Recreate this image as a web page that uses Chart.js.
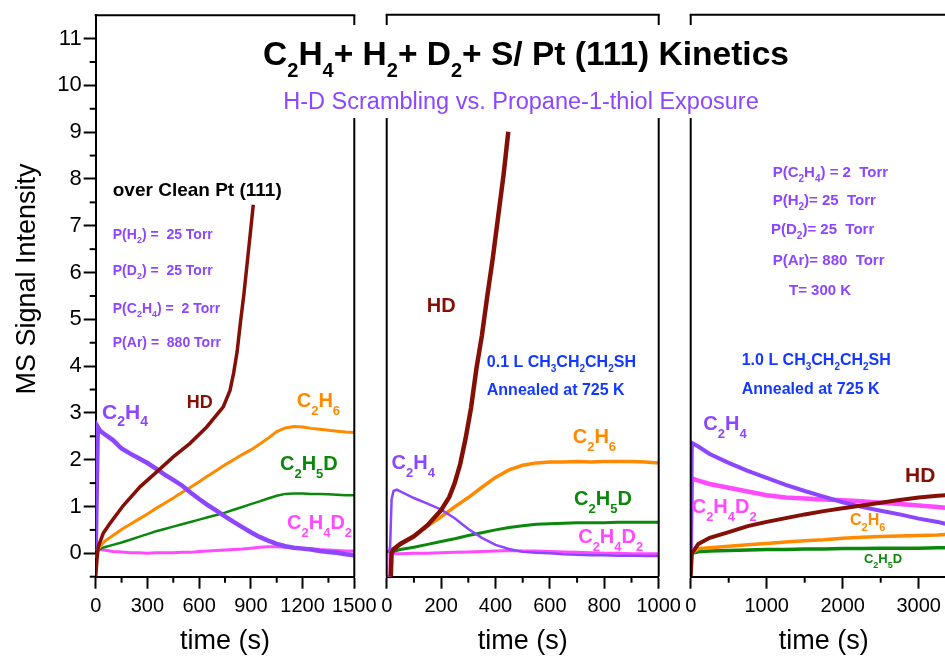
<!DOCTYPE html>
<html>
<head>
<meta charset="utf-8">
<script src="https://cdn.jsdelivr.net/npm/chart.js@4.4.0/dist/chart.umd.min.js"></script>
<style>
html, body { margin: 0; padding: 0; background: #fff; overflow: hidden; }
#wrap { position: relative; width: 945px; height: 658px; overflow: hidden; }
#wrap canvas { position: absolute; left: 0; top: 0; }
</style>
</head>
<body>
<div id="wrap">
  <canvas id="p1" width="945" height="658"></canvas>
  <canvas id="p2" width="945" height="658"></canvas>
  <canvas id="p3" width="1000" height="658"></canvas>
</div>
<script>
// tick values
const yTicks = [0, 1, 2, 3, 4, 5, 6, 7, 8, 9, 10, 11];
const xTicks1 = [0, 300, 600, 900, 1200, 1500];
const xTicks2 = [0, 200, 400, 600, 800, 1000];
const xTicks3 = [0, 1000, 2000, 3000];

// ---- clean Pt(111), 0-1500 s ----
const t1 = [0, 12, 25, 50, 100, 150, 200, 250, 300, 350, 400, 450, 500, 550, 600, 650, 700, 750, 800, 850, 900, 950, 1000, 1050, 1100, 1150, 1200, 1250, 1300, 1350, 1400, 1450, 1500];
const c2h4_1 = [0.05, 2.70, 2.62, 2.55, 2.42, 2.24, 2.13, 2.03, 1.93, 1.81, 1.68, 1.57, 1.45, 1.30, 1.16, 1.03, 0.91, 0.79, 0.67, 0.56, 0.45, 0.35, 0.27, 0.20, 0.15, 0.12, 0.10, 0.08, 0.05, 0.03, 0.01, -0.02, -0.04];
const c2h6_1 = [-0.1, 0.06, 0.14, 0.25, 0.38, 0.51, 0.62, 0.73, 0.84, 0.96, 1.07, 1.18, 1.30, 1.41, 1.53, 1.65, 1.77, 1.89, 2.00, 2.11, 2.21, 2.33, 2.46, 2.60, 2.68, 2.71, 2.70, 2.67, 2.65, 2.63, 2.61, 2.59, 2.58];
const c2h5d_1 = [-0.1, 0.05, 0.09, 0.13, 0.18, 0.23, 0.29, 0.35, 0.41, 0.47, 0.52, 0.57, 0.62, 0.67, 0.72, 0.77, 0.82, 0.87, 0.93, 0.99, 1.05, 1.11, 1.17, 1.23, 1.27, 1.28, 1.28, 1.27, 1.27, 1.26, 1.25, 1.24, 1.24];
const c2h4d2_1 = [0.05, 0.10, 0.08, 0.07, 0.04, 0.03, 0.01, 0.01, 0.00, 0.01, 0.01, 0.01, 0.02, 0.02, 0.04, 0.05, 0.06, 0.07, 0.08, 0.09, 0.11, 0.13, 0.14, 0.14, 0.13, 0.12, 0.11, 0.10, 0.08, 0.07, 0.06, 0.05, 0.05];
const tHD1 = [0, 8, 15, 44, 83, 160, 257, 354, 450, 547, 644, 740, 779, 800, 820, 840, 860, 880, 900, 914];
const hd_1 = [-0.5, -0.1, 0.14, 0.43, 0.64, 1.02, 1.42, 1.74, 2.06, 2.35, 2.70, 3.13, 3.48, 3.85, 4.30, 4.95, 5.55, 6.25, 6.95, 7.45];

// ---- 0.1 L propanethiol, 0-1000 s ----
const t2 = [0, 10, 12, 18, 25, 37, 50, 100, 150, 200, 250, 300, 350, 400, 450, 500, 550, 600, 650, 700, 750, 800, 850, 900, 950, 1000];
const c2h4_2 = [0.04, 0.04, 0.05, 1.15, 1.33, 1.36, 1.32, 1.18, 1.06, 0.93, 0.75, 0.52, 0.33, 0.18, 0.09, 0.03, 0.01, 0.00, -0.02, -0.03, -0.04, -0.04, -0.05, -0.05, -0.06, -0.06];
const c2h6_2 = [0.04, 0.04, 0.05, 0.08, 0.10, 0.15, 0.20, 0.38, 0.58, 0.78, 0.99, 1.19, 1.41, 1.62, 1.78, 1.88, 1.93, 1.95, 1.95, 1.96, 1.95, 1.96, 1.96, 1.96, 1.95, 1.93];
const c2h5d_2 = [0.04, 0.04, 0.04, 0.04, 0.05, 0.06, 0.08, 0.13, 0.19, 0.25, 0.31, 0.38, 0.44, 0.50, 0.55, 0.59, 0.62, 0.63, 0.64, 0.65, 0.65, 0.65, 0.66, 0.66, 0.66, 0.66];
const c2h4d2_2 = [-0.5, -0.5, 0.05, 0.01, 0.00, -0.01, -0.01, 0.00, 0.00, 0.01, 0.02, 0.03, 0.04, 0.05, 0.06, 0.05, 0.05, 0.04, 0.03, 0.02, 0.01, 0.00, 0.00, -0.01, -0.01, -0.01];
const tHD2 = [15, 18, 25, 50, 100, 150, 200, 230, 250, 270, 290, 310, 330, 350, 370, 390, 410, 430, 447];
const hd_2 = [-0.5, 0.0, 0.08, 0.20, 0.36, 0.60, 0.92, 1.20, 1.50, 1.90, 2.45, 3.10, 3.95, 4.65, 5.50, 6.30, 7.20, 8.10, 9.00];

// ---- 1.0 L propanethiol, 0-3350 s ----
const t3 = [0, 15, 100, 250, 500, 750, 1000, 1250, 1500, 1750, 2000, 2250, 2500, 2750, 3000, 3250, 3350];
const c2h4_3 = [0.0, 2.36, 2.28, 2.12, 1.93, 1.76, 1.61, 1.46, 1.33, 1.21, 1.09, 0.99, 0.91, 0.83, 0.74, 0.67, 0.63];
const c2h4d2_3 = [0.0, 1.60, 1.55, 1.48, 1.40, 1.32, 1.24, 1.19, 1.17, 1.15, 1.13, 1.11, 1.08, 1.05, 1.02, 0.99, 0.97];
const hd_3 = [-0.5, 0.0, 0.20, 0.33, 0.45, 0.58, 0.67, 0.75, 0.83, 0.90, 0.96, 1.02, 1.08, 1.14, 1.19, 1.23, 1.24];
const c2h6_3 = [0.0, 0.0, 0.10, 0.12, 0.15, 0.18, 0.21, 0.24, 0.27, 0.29, 0.32, 0.34, 0.36, 0.37, 0.38, 0.39, 0.40];
const c2h5d_3 = [0.0, 0.0, 0.03, 0.05, 0.06, 0.07, 0.08, 0.08, 0.09, 0.09, 0.10, 0.10, 0.11, 0.11, 0.11, 0.12, 0.12];

const FONT = '"Liberation Sans", Arial, Helvetica, sans-serif';
const PURPLE = '#8c46ff', HD_RED = '#840f06', ORANGE = '#ff8a00', GREEN = '#0b880b', MAGENTA = '#ff4aff', BLUE = '#1438ff';

// text with one-character subscripts written as _x
function richText(ctx, text, x, y, o) {
  const size = o.size || 20;
  const sub = o.sub || Math.round(size * 0.66);
  const drop = o.drop || Math.round(size * 0.36);
  const weight = o.bold === false ? '' : 'bold ';
  const parts = [];
  for (let i = 0; i < text.length; i++) {
    if (text[i] === '_') { parts.push({ s: text[i + 1], sub: true }); i++; continue; }
    const last = parts[parts.length - 1];
    if (last && !last.sub) last.s += text[i]; else parts.push({ s: text[i], sub: false });
  }
  const fontOf = p => weight + (p.sub ? sub : size) + 'px ' + FONT;
  let total = 0;
  parts.forEach(p => { ctx.font = fontOf(p); p.w = ctx.measureText(p.s).width; total += p.w; });
  let cx = o.align === 'center' ? x - total / 2 : x;
  ctx.fillStyle = o.color || '#000';
  ctx.textAlign = 'left';
  ctx.textBaseline = 'alphabetic';
  parts.forEach(p => { ctx.font = fontOf(p); ctx.fillText(p.s, cx, p.sub ? y + drop : y); cx += p.w; });
}

function line(ctx, x1, y1, x2, y2) {
  ctx.beginPath(); ctx.moveTo(x1, y1); ctx.lineTo(x2, y2); ctx.stroke();
}

// box edges, minor ticks and in-plot labels
function drawFrame(chart, f) {
  const { ctx, chartArea: a } = chart;
  const xs = chart.scales.x, ys = chart.scales.y;
  const gapTop = 25, gapBottom = 118;
  ctx.save();
  ctx.strokeStyle = '#000';
  ctx.lineWidth = 2;
  line(ctx, a.left - 1, a.top, a.right + 1, a.top);
  if (f.left) { line(ctx, a.left, a.top, a.left, gapTop); line(ctx, a.left, gapBottom, a.left, a.bottom); }
  if (f.right) { line(ctx, a.right, a.top, a.right, gapTop); line(ctx, a.right, gapBottom, a.right, a.bottom); }
  (f.xMinor || []).forEach(v => { const px = xs.getPixelForValue(v); line(ctx, px, a.bottom, px, a.bottom + 6); });
  (f.yMinor || []).forEach(v => { const py = ys.getPixelForValue(v); line(ctx, a.left, py, a.left - 6, py); });
  (f.labels || []).forEach(l => richText(ctx, l.text, xs.getPixelForValue(l.t), ys.getPixelForValue(l.v), l));
  if (f.extra) f.extra(ctx);
  ctx.restore();
}

function makeChart(id, p) {
  return new Chart(document.getElementById(id), {
    type: 'line',
    data: {
      datasets: p.series.map(s => ({
        data: s.t.map((t, i) => ({ x: t, y: s.v[i] })),
        borderColor: s.color,
        borderWidth: s.width,
        pointRadius: 0,
        tension: 0,
        fill: false
      }))
    },
    options: {
      responsive: false,
      animation: false,
      events: [],
      layout: { padding: p.padding },
      plugins: { legend: { display: false }, tooltip: { enabled: false } },
      scales: {
        x: {
          type: 'linear', min: 0, max: p.xMax,
          afterFit: s => { s.height = 81.3; },
          afterBuildTicks: s => { s.ticks = p.xTicks.map(v => ({ value: v })); },
          ticks: { color: '#000', font: { size: 20, family: FONT }, padding: 6, maxRotation: 0, autoSkip: false, callback: v => String(v) },
          grid: { drawOnChartArea: false, tickLength: 12, tickWidth: 2, tickColor: '#000' },
          border: { color: '#000', width: 2 },
          title: { display: true, text: 'time (s)', color: '#000', font: { size: 27, family: FONT }, padding: { top: 0, bottom: 0 } }
        },
        y: {
          type: 'linear', min: -0.5, max: 11.5, display: p.showY,
          afterFit: s => { if (p.showY) s.width = 95.7; },
          afterBuildTicks: s => { s.ticks = yTicks.map(v => ({ value: v })); },
          ticks: { color: '#000', font: { size: 22, family: FONT }, padding: 2, autoSkip: false, callback: v => String(v) },
          grid: { drawOnChartArea: false, tickLength: 12, tickWidth: 2, tickColor: '#000' },
          border: { color: '#000', width: 2 }
        }
      }
    },
    plugins: [{ id: 'frame', afterDraw: chart => drawFrame(chart, p.frame) }]
  });
}

const yHalves = yTicks.map(v => v - 0.5);

makeChart('p1', {
  xMax: 1500, xTicks: xTicks1, showY: true,
  padding: { left: 0, right: 590.7, top: 14.7, bottom: 0 },
  series: [
    { t: tHD1, v: hd_1, color: HD_RED, width: 3.5 },
    { t: t1, v: c2h4_1, color: PURPLE, width: 4.5 },
    { t: t1, v: c2h6_1, color: ORANGE, width: 3 },
    { t: t1, v: c2h5d_1, color: GREEN, width: 2.5 },
    { t: t1, v: c2h4d2_1, color: MAGENTA, width: 3 }
  ],
  frame: {
    right: true,
    xMinor: [150, 450, 750, 1050, 1350],
    yMinor: yHalves,
    labels: [
      { text: 'over Clean Pt (111)', t: 99, v: 7.64, size: 19, color: '#000' },
      { text: 'P(H_2) =  25 Torr', t: 99, v: 6.71, size: 14, sub: 9, drop: 4, color: PURPLE },
      { text: 'P(D_2) =  25 Torr', t: 99, v: 5.94, size: 14, sub: 9, drop: 4, color: PURPLE },
      { text: 'P(C_2H_4) =  2 Torr', t: 99, v: 5.13, size: 14, sub: 9, drop: 4, color: PURPLE },
      { text: 'P(Ar) =  880 Torr', t: 99, v: 4.40, size: 14, color: PURPLE },
      { text: 'C_2H_4', t: 37, v: 2.88, size: 21, sub: 14, drop: 7, color: PURPLE },
      { text: 'HD', t: 528, v: 3.11, size: 18, color: HD_RED },
      { text: 'C_2H_6', t: 1166, v: 3.12, size: 20, sub: 13, drop: 8, color: ORANGE },
      { text: 'C_2H_5D', t: 1069, v: 1.78, size: 20, sub: 13, drop: 8, color: GREEN },
      { text: 'C_2H_4D_2', t: 1110, v: 0.53, size: 20, sub: 13, drop: 8, color: MAGENTA }
    ],
    extra: ctx => {
      richText(ctx, 'C_2H_4+ H_2+ D_2+ S/ Pt (111) Kinetics', 526, 65, { size: 33.5, sub: 20, drop: 12, align: 'center', color: '#000' });
      richText(ctx, 'H-D Scrambling vs. Propane-1-thiol Exposure', 521, 109, { size: 23.5, bold: false, align: 'center', color: PURPLE });
      ctx.save();
      ctx.translate(35, 279);
      ctx.rotate(-Math.PI / 2);
      ctx.font = '27px ' + FONT;
      ctx.fillStyle = '#000';
      ctx.textAlign = 'center';
      ctx.textBaseline = 'alphabetic';
      ctx.fillText('MS Signal Intensity', 0, 0);
      ctx.restore();
    }
  }
});

makeChart('p2', {
  xMax: 1000, xTicks: xTicks2, showY: false,
  padding: { left: 386.7, right: 286.3, top: 14.7, bottom: 0 },
  series: [
    { t: tHD2, v: hd_2, color: HD_RED, width: 4.5 },
    { t: t2, v: c2h4_2, color: PURPLE, width: 2.5 },
    { t: t2, v: c2h6_2, color: ORANGE, width: 3.5 },
    { t: t2, v: c2h5d_2, color: GREEN, width: 3 },
    { t: t2, v: c2h4d2_2, color: MAGENTA, width: 3 }
  ],
  frame: {
    left: true, right: true,
    xMinor: [100, 300, 500, 700, 900],
    labels: [
      { text: 'HD', t: 147, v: 5.15, size: 20, color: HD_RED },
      { text: '0.1 L CH_3CH_2CH_2SH', t: 368, v: 3.98, size: 16, sub: 10, drop: 5, color: BLUE },
      { text: 'Annealed at 725 K', t: 368, v: 3.38, size: 16, color: BLUE },
      { text: 'C_2H_6', t: 684, v: 2.35, size: 20, sub: 13, drop: 8, color: ORANGE },
      { text: 'C_2H_4', t: 18, v: 1.81, size: 20, sub: 13, drop: 8, color: PURPLE },
      { text: 'C_2H_5D', t: 689, v: 1.03, size: 20, sub: 13, drop: 8, color: GREEN },
      { text: 'C_2H_4D_2', t: 704, v: 0.21, size: 20, sub: 13, drop: 8, color: MAGENTA }
    ]
  }
});

makeChart('p3', {
  xMax: 3500, xTicks: xTicks3, showY: false,
  padding: { left: 690.7, right: 43.3, top: 14.7, bottom: 0 },
  series: [
    { t: t3, v: hd_3, color: HD_RED, width: 4 },
    { t: t3, v: c2h4_3, color: PURPLE, width: 4 },
    { t: t3, v: c2h6_3, color: ORANGE, width: 3.5 },
    { t: t3, v: c2h5d_3, color: GREEN, width: 3.5 },
    { t: t3, v: c2h4d2_3, color: MAGENTA, width: 4.5 }
  ],
  frame: {
    left: true,
    xMinor: [500, 1500, 2500],
    labels: [
      { text: 'P(C_2H_4) = 2  Torr', t: 1079, v: 8.04, size: 15, sub: 10, drop: 5, color: PURPLE },
      { text: 'P(H_2)= 25  Torr', t: 1079, v: 7.43, size: 15, sub: 10, drop: 5, color: PURPLE },
      { text: 'P(D_2)= 25  Torr', t: 1057, v: 6.81, size: 15, sub: 10, drop: 5, color: PURPLE },
      { text: 'P(Ar)= 880  Torr', t: 1079, v: 6.15, size: 15, color: PURPLE },
      { text: 'T= 300 K', t: 1293, v: 5.51, size: 15, color: PURPLE },
      { text: '1.0 L CH_3CH_2CH_2SH', t: 671, v: 4.02, size: 16, sub: 10, drop: 5, color: BLUE },
      { text: 'Annealed at 725 K', t: 671, v: 3.41, size: 16, color: BLUE },
      { text: 'C_2H_4', t: 166, v: 2.63, size: 20, sub: 13, drop: 8, color: PURPLE },
      { text: 'HD', t: 2820, v: 1.53, size: 21, color: HD_RED },
      { text: 'C_2H_4D_2', t: 13, v: 0.85, size: 20, sub: 13, drop: 8, color: MAGENTA },
      { text: 'C_2H_6', t: 2096, v: 0.60, size: 16, sub: 11, drop: 6, color: ORANGE },
      { text: 'C_2H_5D', t: 2280, v: -0.21, size: 13, sub: 9, drop: 5, color: GREEN }
    ]
  }
});
</script>
</body>
</html>
